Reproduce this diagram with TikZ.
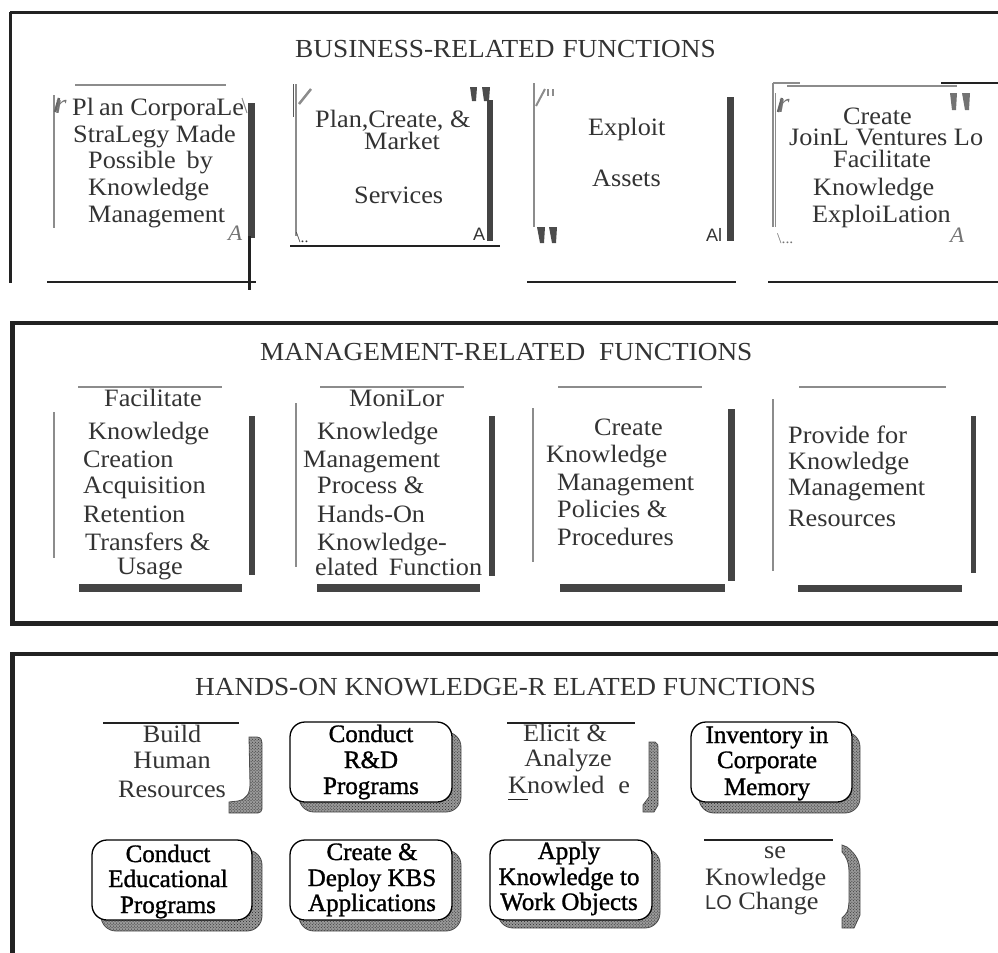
\documentclass[tikz,border=0pt]{standalone}
\usepackage{fontspec}
\setmainfont{Liberation Serif}[FakeStretch=1.05]
\newfontfamily\sansA{Liberation Sans}
\newfontfamily\heavyserif[FakeBold=1.2]{Liberation Serif}
\usetikzlibrary{patterns}
\definecolor{ink}{HTML}{333333}
\definecolor{bar}{HTML}{444444}
\definecolor{rule}{HTML}{8C8C8C}
\definecolor{frame}{HTML}{222222}
\tikzset{
  title/.style={anchor=base west, inner sep=0pt, text=ink, font=\fontsize{26bp}{28bp}\selectfont},
  txt/.style={anchor=base west, inner sep=0pt, text=ink, font=\fontsize{25bp}{27bp}\selectfont},
  ctxt/.style={txt, anchor=base},
  btxt/.style={anchor=base, inner sep=0pt, text=black, font=\heavyserif\fontsize{25bp}{27bp}\selectfont},
  glyph/.style={anchor=base west, inner sep=0pt, text=black!55},
  frameline/.style={draw=frame, line width=4.5bp},
  thinrule/.style={draw=rule, line width=1.3bp},
  baseline rule/.style={draw=frame, line width=2.5bp},
  shadowfill/.style={preaction={fill=black!40}, pattern=crosshatch dots, pattern color=black!85,
    draw=black!70, line width=0.8bp},
  roundbox/.style={draw=black, line width=1.3bp, fill=white, rounded corners=15bp}
}
\begin{document}
\begin{tikzpicture}[x=1bp,y=-1bp]
\useasboundingbox (0,0) rectangle (998,953);

% ---------------- Business-related functions ----------------
\draw[frame, line width=3bp] (10,12) -- (998,12);
\draw[frame, line width=3.5bp] (10.5,12) -- (10.5,283);
\node[title] (t1) at (295,57) {BUSINESS-RELATED\hspace{8bp}FUNCTIONS};

% box: corporate strategy
\draw[thinrule] (75,85) -- (226,85);
\draw[thinrule, line width=1.5bp] (54,95) -- (54,228);
\fill[bar] (248,103) rectangle (255,238);
\draw[frame, line width=2.5bp] (249.5,236) -- (249.5,290);
\draw[baseline rule] (47,282) -- (256,282);
\draw[rule, line width=1bp] (242,98) -- (247,113);
\draw[black!60, line width=2.5bp] (55,112) -- (59,98);
\node[glyph, font=\itshape\fontsize{28bp}{28bp}\selectfont] (r1) at (55,113) {r};
\node[glyph, font=\itshape\fontsize{22bp}{22bp}\selectfont] (a1) at (228,240) {A};
\foreach \x/\y/\s [count=\i] in {72/115/{Pl\kern5bp an CorporaLe}, 73/142/{StraLegy Made},
    88/168/{Possible\hspace{11bp}by}, 88/195/{Knowledge}, 88/222/{Management}}
  \node[txt] (ba-\i) at (\x,\y) {\s};

% box: services
\draw[thinrule, line width=1.5bp] (296,84) -- (296,236);
\draw[black!65, line width=1.5bp] (293.5,84) -- (293.5,117);
\draw[rule, line width=2.5bp] (299,104) -- (311,89);
\fill[black!70] (470,87) -- (477,87) -- (476,101) -- (472,101) -- cycle;
\fill[black!70] (482,87) -- (490,87) -- (489,101) -- (484,101) -- cycle;
\fill[bar] (487,100) rectangle (493,241);
\node[glyph, text=ink, font=\sansA\fontsize{18bp}{18bp}\selectfont] (a2) at (473,240) {A};
\node[glyph, text=ink, font=\fontsize{15bp}{15bp}\selectfont] (d2) at (296,242) {\textbackslash..};
\draw[frame, line width=1.5bp] (290,246) -- (500,246);
\foreach \x/\y/\s [count=\i] in {315/127/{Plan,Create, \&}, 364/149/{Market}, 354/203/{Services}}
  \node[txt] (bb-\i) at (\x,\y) {\s};

% box: assets
\draw[thinrule, line width=1.5bp] (534,83) -- (534,227);
\draw[rule, line width=2bp] (536,106) -- (545,89);
\draw[rule, line width=1.8bp] (548,89) -- (548,96) (553,89) -- (553,96);
\fill[black!70] (537,227) -- (545,227) -- (544,243) -- (540,243) -- cycle;
\fill[black!70] (549,227) -- (557,227) -- (556,243) -- (552,243) -- cycle;
\fill[bar] (727,97) rectangle (734,241);
\node[glyph, text=ink, font=\sansA\fontsize{18bp}{18bp}\selectfont] (a3) at (706,241) {Al};
\draw[baseline rule] (527,282) -- (736,282);
\foreach \x/\y/\s [count=\i] in {588/135/{Exploit}, 592/186/{Assets}}
  \node[txt] (bc-\i) at (\x,\y) {\s};

% box: joint ventures
\draw[thinrule] (773,83) -- (773,227) (775.5,93) -- (775.5,227);
\draw[thinrule] (773,83) -- (800,83) (787,86) -- (957,86);
\draw[frame, line width=1.5bp] (941,83) -- (998,83);
\draw[black!60, line width=2.5bp] (778,112) -- (782,98);
\node[glyph, font=\itshape\fontsize{28bp}{28bp}\selectfont] (r4) at (778,112) {r};
\fill[black!55] (950,93) -- (957,93) -- (956,110) -- (952,110) -- cycle;
\fill[black!55] (962,93) -- (970,93) -- (969,110) -- (965,110) -- cycle;
\node[glyph, font=\itshape\fontsize{22bp}{22bp}\selectfont] (a4) at (950,242) {A};
\node[glyph, font=\fontsize{15bp}{15bp}\selectfont] (d4) at (777,243) {\textbackslash...};
\draw[baseline rule] (768,282) -- (998,282);
\foreach \x/\y/\s [count=\i] in {843/124/{Create}, 789/145/{JoinL Ventures Lo}, 833/167/{Facilitate},
    813/195/{Knowledge}, 812/222/{ExploiLation}}
  \node[txt] (bd-\i) at (\x,\y) {\s};

% ---------------- Management-related functions ----------------
\draw[frameline] (10,323) -- (998,323);
\draw[frameline] (12.5,321) -- (12.5,626);
\draw[frameline] (10,623.5) -- (998,623.5);
\node[title] (t2) at (260,360) {MANAGEMENT-RELATED\hspace{14bp}FUNCTIONS};

% box: facilitate
\draw[thinrule] (78,387) -- (222,387);
\draw[thinrule] (54,412) -- (54,558);
\fill[bar] (249,416) rectangle (255,575);
\fill[bar] (79,584) rectangle (242,592);
\foreach \x/\y/\s [count=\i] in {104/406/{Facilitate}, 88/439/{Knowledge}, 83/467/{Creation},
    83/493/{Acquisition}, 83/522/{Retention}, 85/550/{Transfers \&}, 117/574/{Usage}}
  \node[txt] (ma-\i) at (\x,\y) {\s};

% box: monitor
\draw[thinrule] (320,387) -- (464,387);
\draw[thinrule] (296,403) -- (296,567);
\fill[bar] (489,416) rectangle (495,576);
\fill[bar] (317,584) rectangle (480,592);
\foreach \x/\y/\s [count=\i] in {349/406/{MoniLor}, 317/439/{Knowledge}, 303/467/{Management},
    317/493/{Process \&}, 317/522/{Hands-On}, 317/550/{Knowledge-}, 315/575/{elated\hspace{11bp}Function}}
  \node[txt] (mb-\i) at (\x,\y) {\s};

% box: policies
\draw[thinrule] (558,387) -- (702,387);
\draw[thinrule] (533,408) -- (533,562);
\fill[bar] (728,409) rectangle (735,581);
\fill[bar] (560,584) rectangle (725,592);
\foreach \x/\y/\s [count=\i] in {594/435/{Create}, 546/462/{Knowledge}, 557/490/{Management},
    557/517/{Policies \&}, 557/545/{Procedures}}
  \node[txt] (mc-\i) at (\x,\y) {\s};

% box: resources
\draw[thinrule] (799,387) -- (946,387);
\draw[thinrule] (773,399) -- (773,571);
\fill[bar] (971,416) rectangle (976,573);
\fill[bar] (798,585) rectangle (962,592);
\foreach \x/\y/\s [count=\i] in {788/443/{Provide for}, 788/469/{Knowledge}, 788/495/{Management},
    788/526/{Resources}}
  \node[txt] (md-\i) at (\x,\y) {\s};

% ---------------- Hands-on knowledge-related functions ----------------
\draw[frameline] (10,654) -- (998,654);
\draw[frameline] (12.5,652) -- (12.5,953);
\node[title] (t3) at (195,695) {HANDS-ON KNOWLEDGE-R ELATED FUNCTIONS};

% open box: human resources
\draw[frame, line width=1.2bp] (103,723) -- (239,723);
\path[shadowfill] (249,737) -- (257,737) .. controls (261,738) .. (262,743) -- (262,809)
  .. controls (261,812) .. (258,813) -- (229,813) -- (229,802) -- (238,801)
  .. controls (247,799) and (250,793) .. (250,784) -- cycle;
\foreach \y/\s [count=\i] in {742/{Build}, 768/{Human}, 797/{Resources}}
  \node[ctxt] (ha-\i) at (172,\y) {\s};

% rounded box: R&D
\path[shadowfill, rounded corners=15bp] (299,732) rectangle (461,812);
\path[roundbox] (290,722) rectangle (452,802);
\foreach \y/\s [count=\i] in {742/{Conduct}, 768/{R\&D}, 794/{Programs}}
  \node[btxt] (hb-\i) at (371,\y) {\s};

% open box: elicit
\draw[frame, line width=1.2bp] (507,723) -- (635,723);
\path[shadowfill] (649,742) -- (655,742) .. controls (658,744) .. (658,750) -- (658,805)
  -- (654,812) -- (643,812) -- (643,805) -- (649,797) -- cycle;
\node[ctxt] (hc-1) at (565,741) {Elicit \&};
\node[ctxt] (hc-2) at (568,766) {Analyze};
\node[txt] (hc-3) at (508,793) {Knowled\kern14bp e};
\draw[frame, line width=1.2bp] (508,799.5) -- (528,799.5);

% rounded box: corporate memory
\path[shadowfill, rounded corners=15bp] (699,732) rectangle (860,813);
\path[roundbox] (691,722) rectangle (852,802);
\foreach \y/\s [count=\i] in {743/{Inventory in}, 768/{Corporate}, 795/{Memory}}
  \node[btxt] (hd-\i) at (767,\y) {\s};

% rounded box: educational programs
\path[shadowfill, rounded corners=15bp] (101,850) rectangle (262,931);
\path[roundbox] (92,840) rectangle (252,920);
\foreach \y/\s [count=\i] in {862/{Conduct}, 887/{Educational}, 913/{Programs}}
  \node[btxt] (he-\i) at (168,\y) {\s};

% rounded box: KBS applications
\path[shadowfill, rounded corners=15bp] (299,850) rectangle (461,931);
\path[roundbox] (290,840) rectangle (452,920);
\foreach \y/\s [count=\i] in {860/{Create \&}, 886/{Deploy KBS}, 911/{Applications}}
  \node[btxt] (hf-\i) at (372,\y) {\s};

% rounded box: work objects
\path[shadowfill, rounded corners=15bp] (498,849) rectangle (660,928);
\path[roundbox] (490,840) rectangle (652,920);
\foreach \y/\s [count=\i] in {859/{Apply}, 885/{Knowledge to}, 910/{Work Objects}}
  \node[btxt] (hg-\i) at (569,\y) {\s};

% open box: change
\draw[frame, line width=1.2bp] (704,840) -- (833,840);
\path[shadowfill] (842,845) -- (847,847) .. controls (857,855) and (860,862) .. (860,872)
  -- (860,915) -- (854,928) -- (842,928) -- (842,918) .. controls (848,912) .. (849,902)
  -- (849,872) .. controls (849,862) and (846,856) .. (842,852) -- cycle;
\node[ctxt] (hh-1) at (775,858) {se};
\node[txt] (hh-2) at (705,885) {Knowledge};
\node[txt] (hh-3) at (705,909) {{\sansA\fontsize{20bp}{20bp}\selectfont LO} Change};

\end{tikzpicture}
\end{document}
